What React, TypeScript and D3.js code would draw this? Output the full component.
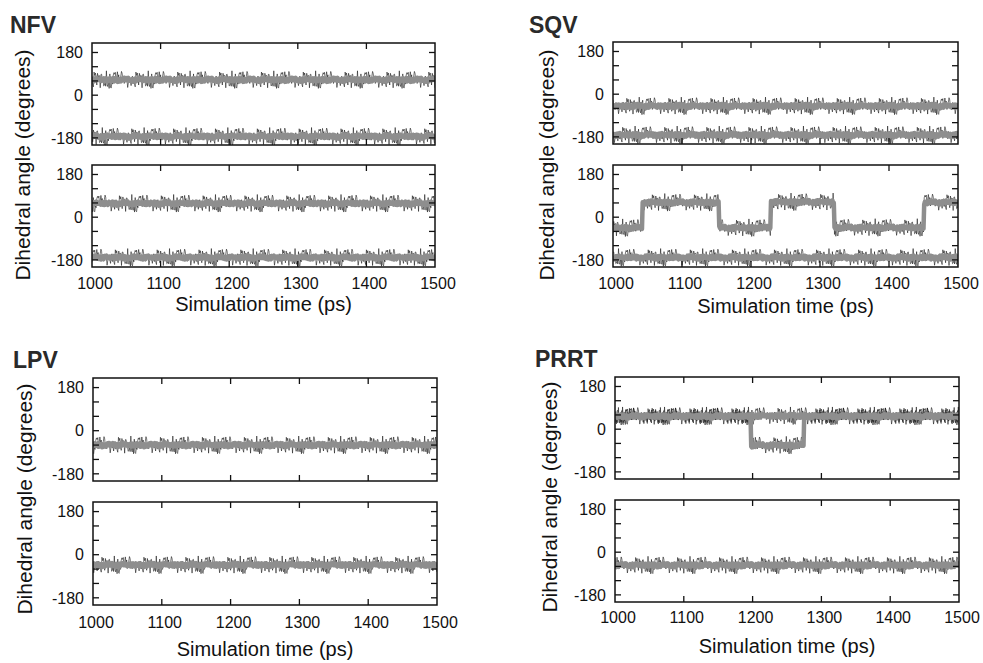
import React from "react";
import * as d3 from "d3";

// time axis
const timeRange = [1000, 1500];
const xTicks = [1000, 1100, 1200, 1300, 1400, 1500];
const yLabelTicks = [180, 0, -180];
const yMinorTicks = [180, 120, 60, 0, -60, -120, -180];
const angleRange = [-210, 220];

// dihedral traces, each as [start ps, end ps, mean angle] segments
const nfvTop = [
  [[1000, 1500, 65]],
  [[1000, 1500, -174]],
];
const nfvBottom = [
  [[1000, 1500, 58]],
  [[1000, 1500, -170]],
];
const sqvTop = [
  [[1000, 1500, -50]],
  [[1000, 1500, -172]],
];
const sqvBottom = [
  [[1000, 1043, -45], [1043, 1154, 62], [1154, 1229, -45], [1229, 1321, 64], [1321, 1451, -44], [1451, 1500, 62]],
  [[1000, 1500, -170]],
];
const lpvTop = [[[1000, 1500, -60]]];
const lpvBottom = [[[1000, 1500, -43]]];
const prrtTop = [
  [[1000, 1500, 56]],
  [[1000, 1198, 54], [1198, 1275, -68], [1275, 1500, 54]],
];
const prrtBottom = [[[1000, 1500, -55]]];

// fluctuation around the mean (degrees), hand-read spread of the traces
const fluctuation = [4, -12, 18, -6, 22, -25, 9, -3, 14, -19, 27, -8, 2, -15, 11, 24, -21, 6, -10, 16,
  -28, 13, -2, 20, -14, 7, -23, 10, -5, 29, -17, 3, -11, 19, -26, 12, -7, 15, -20, 25, -4, 8, -16, 21,
  -9, 1, -24, 17, -13, 5, 23, -18, 14, -1, 26, -22, 9, -6, 12, -27, 18];

const panels = [
  { name: "NFV", traces: [nfvTop, nfvBottom], x: 92, w: 343, tops: [43, 165], h: 102,
    titleX: 10, titleY: 33, tickY: 289, labelY: 311, yLabelX: 30, yLabelY: 165 },
  { name: "SQV", traces: [sqvTop, sqvBottom], x: 613, w: 345, tops: [42, 165], h: 102,
    titleX: 529, titleY: 33, tickY: 289, labelY: 313, yLabelX: 554, yLabelY: 165 },
  { name: "LPV", traces: [lpvTop, lpvBottom], x: 93, w: 344, tops: [378, 502], h: 103,
    titleX: 13, titleY: 368, tickY: 628, labelY: 656, yLabelX: 32, yLabelY: 499 },
  { name: "PRRT", traces: [prrtTop, prrtBottom], x: 615, w: 344, tops: [377, 500], h: 102,
    titleX: 535, titleY: 367, tickY: 623, labelY: 653, yLabelX: 557, yLabelY: 497 },
];

const font = "'Liberation Sans', Arial, sans-serif";

function buildSeries(segments, seed) {
  const pts = [];
  let i = 0;
  for (let t = timeRange[0]; t <= timeRange[1]; t += 1) {
    const seg = segments.find((s) => t >= s[0] && t < s[1]) || segments[segments.length - 1];
    const j = fluctuation[(i * 13 + seed) % fluctuation.length];
    const j2 = fluctuation[(i * 7 + seed + 5) % fluctuation.length];
    pts.push({ t, v: seg[2] + j * 1.3, core: seg[2] + j2 * 0.3 });
    i++;
  }
  return pts;
}

function SubPlot({ x, y, w, h, traces, bottomLabels, seedBase, clipId }) {
  const xScale = d3.scaleLinear().domain(timeRange).range([x, x + w]);
  const yScale = d3.scaleLinear().domain(angleRange).range([y + h, y]);
  const blackLine = d3.line().x((d) => xScale(d.t)).y((d) => yScale(d.v));
  const grayLine = d3.line().x((d) => xScale(d.t)).y((d) => yScale(d.core));
  const tk = 6;
  return (
    <g>
      <clipPath id={clipId}>
        <rect x={x} y={y} width={w} height={h} />
      </clipPath>
      <g clipPath={`url(#${clipId})`}>
        {traces.map((segs, k) => {
          const data = buildSeries(segs, seedBase + k * 17);
          return (
            <g key={k}>
              <path d={blackLine(data)} fill="none" stroke="#1a1a1a" strokeWidth={0.6} />
              <path d={grayLine(data)} fill="none" stroke="#8e8e8e" strokeWidth={4.5} strokeLinejoin="round" />
            </g>
          );
        })}
      </g>
      <rect x={x} y={y} width={w} height={h} fill="none" stroke="#111" strokeWidth={1.5} />
      {xTicks.slice(1, -1).map((t) => (
        <g key={t}>
          <line x1={xScale(t)} x2={xScale(t)} y1={y} y2={y + tk} stroke="#111" strokeWidth={1.3} />
          <line x1={xScale(t)} x2={xScale(t)} y1={y + h} y2={y + h - tk} stroke="#111" strokeWidth={1.3} />
        </g>
      ))}
      {yMinorTicks.map((v) => (
        <g key={v}>
          <line x1={x} x2={x + tk} y1={yScale(v)} y2={yScale(v)} stroke="#111" strokeWidth={1.3} />
          <line x1={x + w} x2={x + w - tk} y1={yScale(v)} y2={yScale(v)} stroke="#111" strokeWidth={1.3} />
        </g>
      ))}
      {yLabelTicks.map((v) => (
        <text key={v} x={x - 9} y={yScale(v)} dy="0.36em" textAnchor="end"
          fontFamily={font} fontSize={16} fill="#111">{v}</text>
      ))}
      {bottomLabels}
    </g>
  );
}

export default function App() {
  return (
    <svg width={983} height={663} style={{ position: "absolute", left: 0, top: 0, background: "#fff" }}>
      {panels.map((p, pi) => {
        const xScale = d3.scaleLinear().domain(timeRange).range([p.x, p.x + p.w]);
        const labels = xTicks.map((t) => (
          <text key={t} x={xScale(t) + 3} y={p.tickY} textAnchor="middle"
            fontFamily={font} fontSize={16} fill="#111">{t}</text>
        ));
        return (
          <g key={p.name}>
            <text x={p.titleX} y={p.titleY} fontFamily={font} fontWeight="bold" fontSize={23} fill="#2a2a2a">{p.name}</text>
            {p.traces.map((tr, si) => (
              <SubPlot key={si} x={p.x} y={p.tops[si]} w={p.w} h={p.h} traces={tr}
                seedBase={pi * 23 + si * 7} clipId={`clip-${pi}-${si}`}
                bottomLabels={si === 1 ? labels : null} />
            ))}
            <text x={p.x + p.w / 2} y={p.labelY} textAnchor="middle" fontFamily={font} fontSize={20} fill="#111">
              Simulation time (ps)
            </text>
            <text transform={`translate(${p.yLabelX},${p.yLabelY}) rotate(-90)`} textAnchor="middle"
              fontFamily={font} fontSize={21} fill="#111">Dihedral angle (degrees)</text>
          </g>
        );
      })}
    </svg>
  );
}
